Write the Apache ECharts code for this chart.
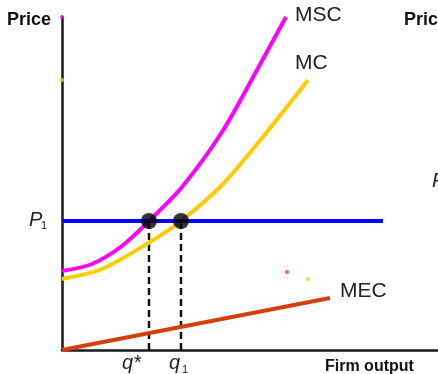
<!DOCTYPE html>
<html><head><meta charset="utf-8">
<script src="https://cdn.jsdelivr.net/npm/echarts@6/dist/echarts.min.js"></script>
<style>html,body{margin:0;padding:0;background:#fff}#c{width:438px;height:374px}</style>
</head><body><div id="c"></div>
<script>
// Values (x: firm output, y: price, arbitrary units)
var mscX = [0, 30, 60, 87, 120, 160, 195, 224];
var mscY = [79, 86, 104, 129, 163, 218, 280, 333];
var mcX = [0, 40, 88, 119, 160, 200, 246];
var mcY = [71, 81, 108, 129, 165, 212, 270];
var mecX = [0, 268];
var mecY = [0, 52];
var p1 = 129;
var p1End = 321;
var qStar = 87;
var q1 = 119;

function pairs(xs, ys) { return xs.map(function (x, i) { return [x, ys[i]]; }); }

var chart = echarts.init(document.getElementById('c'));
var axisLine = { show: true, lineStyle: { color: '#1a1a1a', width: 2.5 } };
chart.setOption({
  animation: false,
  grid: { left: 62, right: 0, top: 17, bottom: 24 },
  xAxis: { type: 'value', min: 0, max: 376, axisLine: axisLine, axisTick: { show: false }, axisLabel: { show: false }, splitLine: { show: false } },
  yAxis: { type: 'value', min: 0, max: 333, axisLine: axisLine, axisTick: { show: false }, axisLabel: { show: false }, splitLine: { show: false } },
  series: [
    { type: 'line', data: [[qStar, 0], [qStar, p1]], symbol: 'none', lineStyle: { color: '#111', width: 2.5, type: [7, 4] }, z: 2 },
    { type: 'line', data: [[q1, 0], [q1, p1]], symbol: 'none', lineStyle: { color: '#111', width: 2.5, type: [7, 4] }, z: 2 },
    { type: 'line', data: pairs(mecX, mecY), symbol: 'none', clip: false, lineStyle: { color: '#d4400c', width: 4 }, z: 3 },
    { type: 'line', data: pairs(mcX, mcY), smooth: 0.3, symbol: 'none', clip: false, lineStyle: { color: '#ffcc00', width: 4 }, z: 3 },
    { type: 'line', data: pairs(mscX, mscY), smooth: 0.3, symbol: 'none', clip: false, lineStyle: { color: '#ff00ff', width: 4 }, z: 3 },
    { type: 'line', data: [[0, p1], [p1End, p1]], symbol: 'none', clip: false, lineStyle: { color: '#0000ff', width: 4 }, z: 4 },
    { type: 'scatter', data: [[qStar, p1], [q1, p1]], symbolSize: 16, itemStyle: { color: '#000' }, z: 5 },
    { type: 'scatter', data: [[0, mscY[mscY.length - 1]], [mscX[mscX.length - 1] + 1, mscY[0] - 1]], symbolSize: 4, clip: false, itemStyle: { color: '#ff00ff' }, z: 5 },
    { type: 'scatter', data: [[0, mcY[mcY.length - 1]], [mcX[mcX.length - 1], mcY[0]]], symbolSize: 4, clip: false, itemStyle: { color: '#ffcc00' }, z: 5 }
  ],
  graphic: [
    { type: 'text', left: 7, top: 11, style: { text: 'Price', font: 'bold 18px "Liberation Sans", Arial, sans-serif', fill: '#111' } },
    { type: 'text', left: 404, top: 11, style: { text: 'Price', font: 'bold 18px "Liberation Sans", Arial, sans-serif', fill: '#111' } },
    { type: 'text', left: 295, top: 5, style: { text: 'MSC', font: '21px "Liberation Sans", Arial, sans-serif', fill: '#222' } },
    { type: 'text', left: 295, top: 53, style: { text: 'MC', font: '21px "Liberation Sans", Arial, sans-serif', fill: '#222' } },
    { type: 'text', left: 340, top: 281, style: { text: 'MEC', font: '21px "Liberation Sans", Arial, sans-serif', fill: '#222' } },
    { type: 'text', left: 325, top: 359, style: { text: 'Firm output', font: 'bold 16px "Liberation Sans", Arial, sans-serif', fill: '#111' } },
    { type: 'text', left: 29, top: 210, style: { text: 'P', font: 'italic 20px "Liberation Sans", Arial, sans-serif', fill: '#222' } },
    { type: 'text', left: 41, top: 220, style: { text: '1', font: '11px "Liberation Sans", Arial, sans-serif', fill: '#222' } },
    { type: 'text', left: 432, top: 171, style: { text: 'P', font: 'italic 20px "Liberation Sans", Arial, sans-serif', fill: '#222' } },
    { type: 'text', left: 122, top: 353, style: { text: 'q*', font: 'italic 20px "Liberation Sans", Arial, sans-serif', fill: '#222' } },
    { type: 'text', left: 169, top: 353, style: { text: 'q', font: 'italic 20px "Liberation Sans", Arial, sans-serif', fill: '#222' } },
    { type: 'text', left: 182, top: 364, style: { text: '1', font: '11px "Liberation Sans", Arial, sans-serif', fill: '#222' } }
  ]
});
</script></body></html>
